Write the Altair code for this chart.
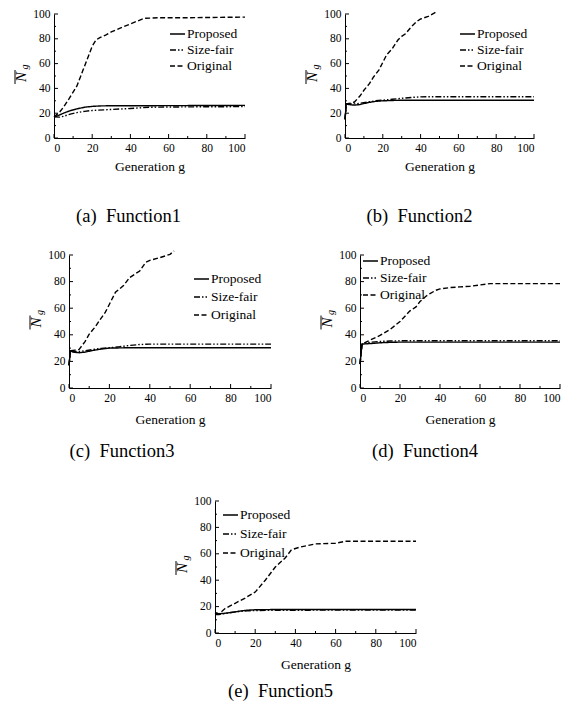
import altair as alt
import pandas as pd

FONT = "Liberation Serif"
SERIES = ["Proposed", "Size-fair", "Original"]
DASHES = [[1, 0], [6, 2, 1.5, 2, 1.5, 2], [5, 2.5]]

# ---- Function1 ----
a_prop_g = [0, 2, 5, 8, 12, 16, 20, 25, 30, 40, 60, 80, 100]
a_prop_v = [17, 18, 20, 21.8, 23.5, 24.8, 25.5, 25.9, 26, 26, 26.1, 26.2, 26.3]
a_size_g = [0, 3, 5, 8, 12, 16, 20, 30, 40, 50, 60, 80, 100]
a_size_v = [17, 16.8, 17.5, 19, 20.5, 21.5, 22.2, 23, 23.8, 24.8, 25, 25.2, 25.3]
a_orig_g = [0, 3, 5, 8, 10, 12, 15, 18, 20, 22, 24, 27, 30, 33, 36, 40, 44, 47, 55, 70, 100]
a_orig_v = [17, 21, 25, 32, 37, 42, 54, 66, 74, 79, 81, 83, 85.5, 87.5, 89.5, 92, 94.5, 96.5, 97, 97, 97.5]

# ---- Function2 ----
b_prop_g = [0, 0.7, 2, 5, 8, 12, 16, 20, 30, 50, 100]
b_prop_v = [15, 27.5, 27, 26.5, 27, 28.5, 29.5, 30, 30.5, 30.5, 30.5]
b_size_g = [0, 0.7, 2, 5, 8, 12, 16, 20, 25, 30, 35, 40, 50, 100]
b_size_v = [15, 27.5, 27.5, 27.5, 28, 29, 30, 30.5, 31.2, 32, 32.7, 33.2, 33.3, 33.3]
b_orig_g = [0, 0.7, 3, 5, 8, 10, 13, 15, 18, 20, 22, 25, 28, 30, 32, 35, 38, 40, 44, 48]
b_orig_v = [15, 27.5, 28, 29, 34, 38.5, 44, 49, 55, 61, 67, 72, 79, 82, 84, 89.5, 94, 96, 98, 101.5]

# ---- Function3 ----
c_prop_g = [0, 0.7, 2, 5, 8, 12, 16, 20, 30, 50, 100]
c_prop_v = [17, 28, 27, 26.5, 27, 28.3, 29.3, 30, 30.3, 30.3, 30.3]
c_size_g = [0, 0.7, 2, 5, 8, 12, 16, 20, 25, 30, 35, 40, 50, 100]
c_size_v = [17, 28, 27.5, 27.5, 28, 29, 29.8, 30.3, 31, 32, 32.7, 33, 33, 33]
c_orig_g = [0, 0.7, 3, 5, 8, 10, 13, 15, 18, 20, 23, 27, 30, 33, 35, 38, 40, 45, 50, 52]
c_orig_v = [17, 28, 28.5, 29, 35, 40.5, 46, 50.5, 57, 63, 72, 77, 83, 86, 88, 94.5, 96, 98, 100.5, 103]

# ---- Function4 ----
d_prop_g = [0, 1, 3, 6, 10, 15, 20, 30, 50, 100]
d_prop_v = [18, 33, 33.2, 33.5, 34, 34.3, 34.5, 34.5, 34.5, 34.5]
d_size_g = [0, 1, 3, 6, 10, 15, 20, 30, 50, 100]
d_size_v = [18, 33, 34, 34.5, 35, 35.3, 35.5, 35.5, 35.5, 35.5]
d_orig_g = [0, 1, 3, 5, 10, 15, 20, 25, 28, 30, 33, 35, 38, 40, 45, 50, 55, 60, 65, 80, 100]
d_orig_v = [18, 33, 34.5, 36, 39.5, 44, 50, 58, 61, 65, 69, 71, 73.5, 74.5, 75.5, 76, 76.5, 77.5, 78.5, 78.5, 78.5]

# ---- Function5 ----
e_prop_g = [0, 2, 5, 8, 12, 16, 20, 30, 50, 100]
e_prop_v = [15, 14.5, 15, 15.5, 16.5, 17.3, 17.6, 17.8, 17.8, 17.8]
e_size_g = [0, 2, 5, 8, 12, 16, 20, 30, 50, 100]
e_size_v = [14, 14, 14.8, 15.5, 16.3, 16.8, 17, 17.2, 17.3, 17.3]
e_orig_g = [0, 2, 5, 10, 15, 20, 25, 30, 35, 38, 42, 50, 60, 65, 80, 100]
e_orig_v = [15.5, 14.5, 18.5, 22.5, 26.5, 31, 40, 50, 57, 63, 65, 67.5, 68, 69.5, 69.5, 69.5]

MAJOR_TICKS = [0, 20, 40, 60, 80, 100]
MINOR_TICKS = [10, 30, 50, 70, 90]


def make_df(p_g, p_v, s_g, s_v, o_g, o_v):
    rows = []
    for name, gs, vs in zip(SERIES, [p_g, s_g, o_g], [p_v, s_v, o_v]):
        for g, v in zip(gs, vs):
            rows.append({"g": g, "v": v, "series": name})
    return pd.DataFrame(rows)


def panel(df, w, h, lx, ly, rowpad, caption, dx, cap_offset, tpad):
    xs = alt.Scale(domain=[0, 100], nice=False, zero=False)
    ys = alt.Scale(domain=[0, 100], nice=False, zero=False)
    xax = alt.Axis(values=MAJOR_TICKS, title="Generation g", ticks=False, grid=False,
                   labelPadding=4, titlePadding=tpad, titleFontSize=13.5, titleFont=FONT,
                   titleFontWeight="normal", titleColor="black",
                   labelFont=FONT, labelFontSize=11.5, labelColor="black")
    yax = alt.Axis(values=MAJOR_TICKS, title=None, ticks=False, grid=False, labelPadding=4,
                   labelFont=FONT, labelFontSize=11.5, labelColor="black")
    lines = alt.Chart(df).mark_line(color="black", strokeWidth=1.4).encode(
        x=alt.X("g:Q", scale=xs, axis=xax),
        y=alt.Y("v:Q", scale=ys, axis=yax),
        strokeDash=alt.StrokeDash("series:N",
            scale=alt.Scale(domain=SERIES, range=DASHES),
            legend=alt.Legend(orient="none", legendX=lx, legendY=ly, title=None,
                              rowPadding=rowpad, padding=0, labelFont=FONT,
                              labelFontSize=13.5, labelColor="black")),
        detail="series:N",
    )
    maj = pd.DataFrame({"t": MAJOR_TICKS})
    mnr = pd.DataFrame({"t": MINOR_TICKS})
    xt1 = alt.Chart(maj).mark_rule(color="black", strokeWidth=1).encode(
        x=alt.X("t:Q", scale=xs, axis=xax), y=alt.value(h), y2=alt.value(h - 4))
    xt2 = alt.Chart(mnr).mark_rule(color="black", strokeWidth=1).encode(
        x=alt.X("t:Q", scale=xs, axis=xax), y=alt.value(h), y2=alt.value(h - 2))
    yt1 = alt.Chart(maj).mark_rule(color="black", strokeWidth=1).encode(
        y=alt.Y("t:Q", scale=ys, axis=yax), x=alt.value(0), x2=alt.value(4))
    yt2 = alt.Chart(mnr).mark_rule(color="black", strokeWidth=1).encode(
        y=alt.Y("t:Q", scale=ys, axis=yax), x=alt.value(0), x2=alt.value(2))
    one = pd.DataFrame({"k": [0]})
    cy = h / 2
    tN = alt.Chart(one).mark_text(text="N", angle=270, font=FONT, fontStyle="italic",
                                  fontSize=15, align="center", baseline="middle",
                                  color="black").encode(x=alt.value(-33), y=alt.value(cy + 1))
    tg = alt.Chart(one).mark_text(text="g", angle=270, font=FONT, fontStyle="italic",
                                  fontSize=10, align="center", baseline="middle",
                                  color="black").encode(x=alt.value(-29), y=alt.value(cy - 9))
    ov = alt.Chart(one).mark_rule(color="black", strokeWidth=1).encode(
        x=alt.value(-39), y=alt.value(cy - 6), y2=alt.value(cy + 8))
    return alt.layer(lines, xt1, xt2, yt1, yt2, tN, tg, ov).properties(
        width=w, height=h,
        title=alt.TitleParams(text=caption, orient="bottom", anchor="middle",
                              frame="group", dx=dx, offset=cap_offset,
                              fontSize=18.5, font=FONT, fontWeight="normal",
                              color="black"))


def spacer(w, h):
    return alt.Chart(pd.DataFrame({"k": [0]})).mark_rule(opacity=0).encode(
        x=alt.value(0), y=alt.value(0), y2=alt.value(0)).properties(width=w, height=h)


def indep(c):
    return c.resolve_scale(strokeDash="independent", x="independent", y="independent"
                           ).resolve_legend(strokeDash="independent"
                           ).resolve_axis(x="independent", y="independent")


pa = panel(make_df(a_prop_g, a_prop_v, a_size_g, a_size_v, a_orig_g, a_orig_v),
           191, 124, 115, 11.5, 1, "(a)\u2002Function1", -21, 34, 6)
pb = panel(make_df(b_prop_g, b_prop_v, b_size_g, b_size_v, b_orig_g, b_orig_v),
           189, 124, 114, 11.5, 1, "(b)\u2002Function2", -20, 34, 6)
pc = panel(make_df(c_prop_g, c_prop_v, c_size_g, c_size_v, c_orig_g, c_orig_v),
           202, 133, 124, 15.5, 3, "(c)\u2002Function3", -48, 16, 9)
pd_ = panel(make_df(d_prop_g, d_prop_v, d_size_g, d_size_v, d_orig_g, d_orig_v),
            200, 133, 2, -2.5, 2, "(d)\u2002Function4", -35, 16, 9)
pe = panel(make_df(e_prop_g, e_prop_v, e_size_g, e_size_v, e_orig_g, e_orig_v),
           201, 132, 7, 5.5, 4, "(e)\u2002Function5", -35, 11, 9)

row1 = indep(alt.hconcat(spacer(6, 1), pa, spacer(57, 1), pb, spacing=0))
row2 = indep(alt.hconcat(spacer(21, 1), pc, spacer(46, 1), pd_, spacing=0))
row3 = indep(alt.hconcat(spacer(167, 1), pe, spacing=0))

chart = indep(alt.vconcat(row1, spacer(1, 22), row2, spacer(1, 34), row3, spacing=0)).properties(
    padding=0, background="white"
).configure_view(stroke=None).configure_axis(
    labelFont=FONT, labelFontSize=11.5, labelColor="black",
    domainColor="black", domainWidth=1
).configure_legend(
    labelFont=FONT, labelFontSize=13.5, labelColor="black",
    symbolStrokeColor="black", symbolStrokeWidth=1.5, symbolSize=225,
    symbolType="stroke", labelOffset=1
).configure_concat(spacing=0)

chart.save("out.html", embed_options={"renderer": "svg", "actions": False})
